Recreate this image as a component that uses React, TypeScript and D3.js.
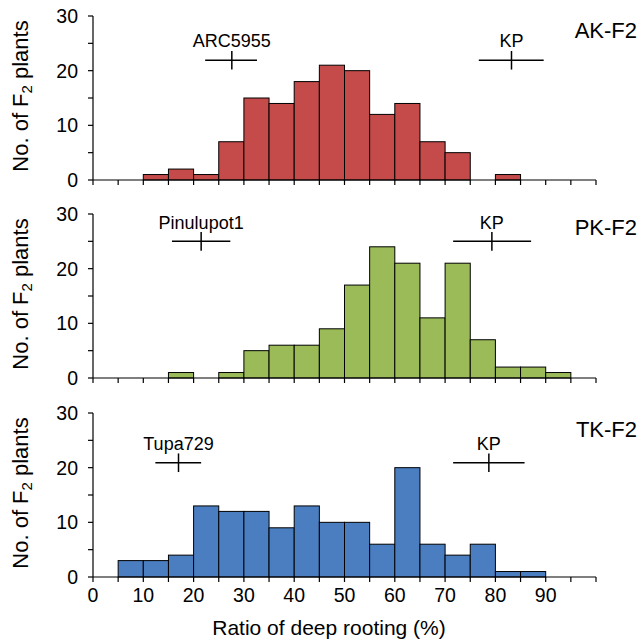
import React from 'react'
import * as d3 from 'd3'

// histogram bins: 0-5, 5-10, ... 95-100
const binStarts = [0, 5, 10, 15, 20, 25, 30, 35, 40, 45, 50, 55, 60, 65, 70, 75, 80, 85, 90, 95]
const akCounts = [0, 0, 1, 2, 1, 7, 15, 14, 18, 21, 20, 12, 14, 7, 5, 0, 1, 0, 0, 0]
const pkCounts = [0, 0, 0, 1, 0, 1, 5, 6, 6, 9, 17, 24, 21, 11, 21, 7, 2, 2, 1, 0]
const tkCounts = [0, 3, 3, 4, 13, 12, 12, 9, 13, 10, 10, 6, 20, 6, 4, 6, 1, 1, 0, 0]

const panelNames = ['AK-F2', 'PK-F2', 'TK-F2']
const parentNames = [['ARC5955', 'KP'], ['Pinulupot1', 'KP'], ['Tupa729', 'KP']]
// parent mean, min, max (%)
const parentMeans = [[27.6, 83.2], [21.5, 79.3], [17.0, 78.7]]
const parentLows = [[22.3, 76.7], [15.7, 71.6], [12.4, 71.6]]
const parentHighs = [[32.6, 89.6], [27.3, 87.1], [21.5, 85.8]]
const markerLevels = [21.9, 25.0, 20.9] // y value of mean marker
const labelLevels = [24.3, 27.3, 23.3]
const nameLevels = [25.9, 26.2, 25.7]

const xTicks = d3.range(0, 101, 5)
const xLabels = [0, 10, 20, 30, 40, 50, 60, 70, 80, 90]
const yTicks = [0, 5, 10, 15, 20, 25, 30]
const yLabels = [0, 10, 20, 30]

const colors = ['#C44B4A', '#9BBB59', '#4A7EC1']
const allCounts = [akCounts, pkCounts, tkCounts]
const bottoms = [180, 378, 577]
const panelH = 164
const font = 'Liberation Sans, Arial, sans-serif'

const x = d3.scaleLinear().domain([0, 100]).range([93, 596])

const Panel = ({ i }: { i: number }) => {
  const y = d3.scaleLinear().domain([0, 30]).range([bottoms[i], bottoms[i] - panelH])
  const counts = allCounts[i]
  const mid = bottoms[i] - panelH / 2
  return (
    <g>
      {binStarts.map((b, k) =>
        counts[k] > 0 ? (
          <rect key={k} x={x(b)} y={y(counts[k])} width={x(b + 5) - x(b)} height={y(0) - y(counts[k])}
            fill={colors[i]} stroke="#000" strokeWidth={1} />
        ) : null
      )}
      <line x1={x(0)} x2={x(0)} y1={y(0)} y2={y(30)} stroke="#000" strokeWidth={1.2} />
      <line x1={x(0)} x2={x(100)} y1={y(0)} y2={y(0)} stroke="#000" strokeWidth={1.2} />
      {yTicks.map(t => (
        <line key={t} x1={x(0) - 5} x2={x(0)} y1={y(t)} y2={y(t)} stroke="#000" strokeWidth={1.2} />
      ))}
      {xTicks.map(t => (
        <line key={t} x1={x(t)} x2={x(t)} y1={y(0)} y2={y(0) + 5} stroke="#000" strokeWidth={1.2} />
      ))}
      {yLabels.map(t => (
        <text key={t} x={78} y={y(t) + 7} textAnchor="end" fontSize={19.5} fontFamily={font}>{t}</text>
      ))}
      <text transform={`translate(28,${mid - 2}) rotate(-90)`} textAnchor="middle" fontSize={22} fontFamily={font}>
        No. of F<tspan fontSize={15} dy={4}>2</tspan><tspan dy={-4}> plants</tspan>
      </text>
      <text x={637} y={y(nameLevels[i])} textAnchor="end" fontSize={22} fontFamily={font}>{panelNames[i]}</text>
      {[0, 1].map(p => (
        <g key={p}>
          <text x={x(parentMeans[i][p])} y={y(labelLevels[i])} textAnchor="middle" fontSize={18} fontFamily={font}>
            {parentNames[i][p]}
          </text>
          <line x1={x(parentLows[i][p])} x2={x(parentHighs[i][p])} y1={y(markerLevels[i])} y2={y(markerLevels[i])}
            stroke="#000" strokeWidth={1.5} />
          <line x1={x(parentMeans[i][p])} x2={x(parentMeans[i][p])} y1={y(markerLevels[i] + 1.7)}
            y2={y(markerLevels[i] - 1.7)} stroke="#000" strokeWidth={1.5} />
        </g>
      ))}
    </g>
  )
}

const App = () => {
  return (
    <svg width={641} height={642} style={{ position: 'absolute', left: 0, top: 0, background: '#fff' }}>
      <rect width={641} height={642} fill="#fff" />
      {[0, 1, 2].map(i => <Panel key={i} i={i} />)}
      {xLabels.map(t => (
        <text key={t} x={x(t)} y={602} textAnchor="middle" fontSize={19.5} fontFamily={font}>{t}</text>
      ))}
      <text x={329} y={635} textAnchor="middle" fontSize={21} fontFamily={font}>Ratio of deep rooting (%)</text>
    </svg>
  )
}

export default App
